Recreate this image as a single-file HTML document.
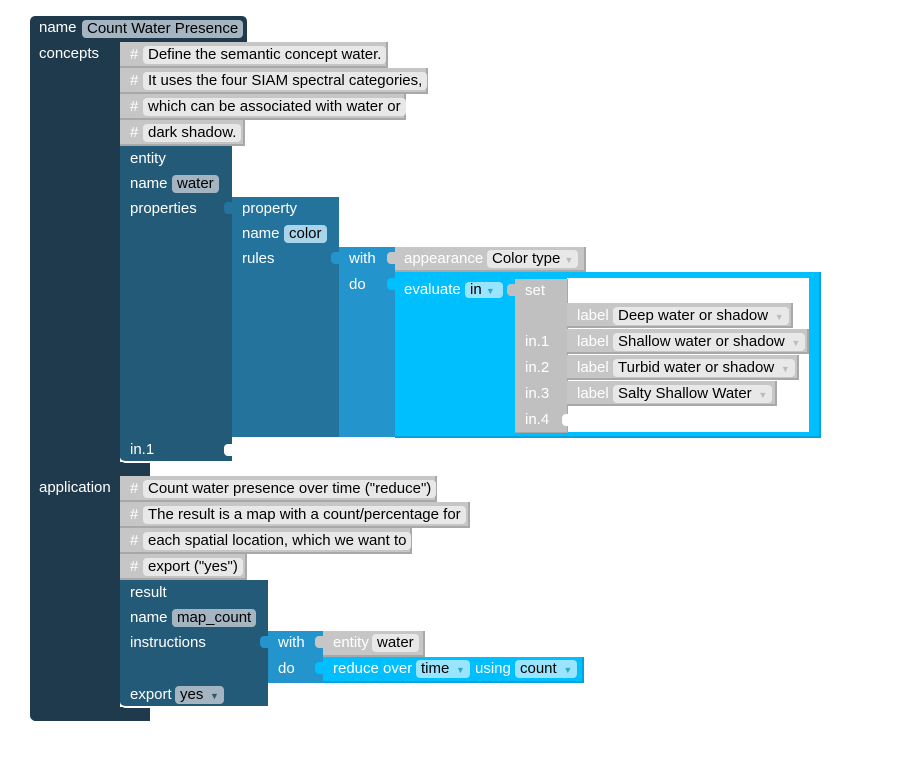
<!DOCTYPE html>
<html><head><meta charset="utf-8"><style>
body{margin:0;width:917px;height:767px;background:#fff;position:relative;overflow:hidden;font-family:"Liberation Sans",sans-serif;font-size:15px;}
div{position:absolute;box-sizing:border-box;}
.t{color:#fff;line-height:16px;white-space:nowrap;}
.f{line-height:17px;height:18px;padding:0 5px;border-radius:4px;color:#000;white-space:nowrap;}
.c{background:#c6c6c6;border-right:2px solid #a8a8a8;border-bottom:2px solid #a8a8a8;}
.cf{background:#e8e8e8;}
.dk{background:#a4b4c0;}
.bl{background:#a8d4ec;}
.cy{background:#99e5ff;}
.h{color:#fff;line-height:16px;}
</style></head><body>
<div style="left:30px;top:16px;width:217px;height:26px;background:#1f3a4d;border-radius:5px 5px 0 0"></div>
<div style="left:30px;top:41px;width:90px;height:680px;background:#1f3a4d;border-radius:0 0 0 6px"></div>
<div style="left:30px;top:462px;width:120px;height:14px;background:#1f3a4d"></div>
<div style="left:30px;top:707px;width:120px;height:14px;background:#1f3a4d;border-radius:0 0 0 6px"></div>
<div class="t" style="left:39px;top:20px">name</div>
<div class="f" style="left:82px;top:20px;background:#a4b4c0">Count Water Presence</div>
<div class="t" style="left:39px;top:46px">concepts</div>
<div class="t" style="left:39px;top:480px">application</div>

<div class="c" style="left:120px;top:42px;width:268px;height:26px"></div>
<div class="c" style="left:120px;top:68px;width:308px;height:26px"></div>
<div class="c" style="left:120px;top:94px;width:286px;height:26px"></div>
<div class="c" style="left:120px;top:120px;width:125px;height:26px"></div>
<div class="h" style="left:130px;top:47px">#</div><div class="f cf" style="left:143px;top:46px">Define the semantic concept water.</div>
<div class="h" style="left:130px;top:73px">#</div><div class="f cf" style="left:143px;top:72px">It uses the four SIAM spectral categories,</div>
<div class="h" style="left:130px;top:99px">#</div><div class="f cf" style="left:143px;top:98px">which can be associated with water or</div>
<div class="h" style="left:130px;top:125px">#</div><div class="f cf" style="left:143px;top:124px">dark shadow.</div>

<div style="left:120px;top:146px;width:112px;height:317px;background:#235a78;border-radius:0 0 0 6px;border-bottom:2px solid #fff"></div>
<div class="t" style="left:130px;top:151px">entity</div>
<div class="t" style="left:130px;top:176px">name</div><div class="f dk" style="left:172px;top:175px">water</div>
<div class="t" style="left:130px;top:201px">properties</div>
<div class="t" style="left:130px;top:442px">in.1</div>
<div style="left:224px;top:444px;width:8px;height:12px;background:#fff;border-radius:4px 0 0 4px"></div>

<div style="left:232px;top:197px;width:107px;height:240px;background:#23739c"></div>
<div style="left:224px;top:202px;width:9px;height:12px;background:#23739c;border-radius:4px 0 0 4px"></div>
<div class="t" style="left:242px;top:201px">property</div>
<div class="t" style="left:242px;top:226px">name</div><div class="f bl" style="left:284px;top:225px">color</div>
<div class="t" style="left:242px;top:251px">rules</div>

<div style="left:339px;top:247px;width:56px;height:190px;background:#2394cc"></div>
<div style="left:331px;top:252px;width:9px;height:12px;background:#2394cc;border-radius:4px 0 0 4px"></div>
<div class="t" style="left:349px;top:251px">with</div>
<div class="t" style="left:349px;top:277px">do</div>

<div class="c" style="left:395px;top:247px;width:191px;height:25px"></div>
<div style="left:387px;top:252px;width:9px;height:12px;background:#c6c6c6;border-radius:4px 0 0 4px"></div>
<div class="t" style="left:404px;top:251px">appearance</div>
<div class="f cf" style="left:487px;top:250px">Color type <span style="color:#bbb;font-size:9px">▼</span></div>

<div style="left:395px;top:272px;width:426px;height:166px;background:#00bfff;border-right:2px solid #00a3dd;border-bottom:2px solid #00a3dd"></div>
<div style="left:387px;top:278px;width:9px;height:12px;background:#00bfff;border-radius:4px 0 0 4px"></div>
<div style="left:567px;top:278px;width:242px;height:154px;background:#fff"></div>
<div class="t" style="left:404px;top:282px">evaluate</div>
<div class="f cy" style="left:465px;top:282px;width:38px;height:16px;line-height:16px">in <span style="color:#3ab;font-size:9px">▼</span></div>
<div style="left:515px;top:279px;width:53px;height:154px;background:#c0c0c0;border-right:1px solid #a8a8a8;border-bottom:1px solid #a8a8a8"></div>
<div style="left:507px;top:284px;width:9px;height:12px;background:#c0c0c0;border-radius:4px 0 0 4px"></div>
<div class="t" style="left:525px;top:283px">set</div>
<div class="t" style="left:525px;top:334px">in.1</div>
<div class="t" style="left:525px;top:360px">in.2</div>
<div class="t" style="left:525px;top:386px">in.3</div>
<div class="t" style="left:525px;top:412px">in.4</div>
<div style="left:562px;top:414px;width:6px;height:12px;background:#fff;border-radius:4px 0 0 4px"></div>

<div class="c" style="left:567px;top:303px;width:226px;height:25px"></div>
<div class="c" style="left:567px;top:329px;width:242px;height:25px"></div>
<div class="c" style="left:567px;top:355px;width:232px;height:25px"></div>
<div class="c" style="left:567px;top:381px;width:210px;height:25px"></div>
<div class="t" style="left:577px;top:308px">label</div><div class="f cf" style="left:613px;top:307px">Deep water or shadow <span style="color:#bbb;font-size:9px">&nbsp;▼</span></div>
<div class="t" style="left:577px;top:334px">label</div><div class="f cf" style="left:613px;top:333px">Shallow water or shadow <span style="color:#bbb;font-size:9px">&nbsp;▼</span></div>
<div class="t" style="left:577px;top:360px">label</div><div class="f cf" style="left:613px;top:359px">Turbid water or shadow <span style="color:#bbb;font-size:9px">&nbsp;▼</span></div>
<div class="t" style="left:577px;top:386px">label</div><div class="f cf" style="left:613px;top:385px">Salty Shallow Water <span style="color:#bbb;font-size:9px">&nbsp;▼</span></div>

<div class="c" style="left:120px;top:476px;width:317px;height:26px"></div>
<div class="c" style="left:120px;top:502px;width:350px;height:26px"></div>
<div class="c" style="left:120px;top:528px;width:292px;height:26px"></div>
<div class="c" style="left:120px;top:554px;width:127px;height:26px"></div>
<div class="h" style="left:130px;top:481px">#</div><div class="f cf" style="left:143px;top:480px">Count water presence over time ("reduce")</div>
<div class="h" style="left:130px;top:507px">#</div><div class="f cf" style="left:143px;top:506px">The result is a map with a count/percentage for</div>
<div class="h" style="left:130px;top:533px">#</div><div class="f cf" style="left:143px;top:532px">each spatial location, which we want to</div>
<div class="h" style="left:130px;top:559px">#</div><div class="f cf" style="left:143px;top:558px">export ("yes")</div>

<div style="left:120px;top:580px;width:148px;height:128px;background:#235a78;border-radius:0 0 0 6px;border-bottom:2px solid #fff"></div>
<div class="t" style="left:130px;top:585px">result</div>
<div class="t" style="left:130px;top:610px">name</div><div class="f dk" style="left:172px;top:609px">map_count</div>
<div class="t" style="left:130px;top:635px">instructions</div>
<div class="t" style="left:130px;top:687px">export</div><div class="f dk" style="left:175px;top:686px">yes <span style="color:#356;font-size:9px">&nbsp;▼</span></div>

<div style="left:268px;top:631px;width:55px;height:52px;background:#2394cc"></div>
<div style="left:260px;top:636px;width:9px;height:12px;background:#2394cc;border-radius:4px 0 0 4px"></div>
<div class="t" style="left:278px;top:635px">with</div>
<div class="t" style="left:278px;top:661px">do</div>
<div class="c" style="left:323px;top:631px;width:102px;height:26px"></div>
<div style="left:315px;top:636px;width:9px;height:12px;background:#c6c6c6;border-radius:4px 0 0 4px"></div>
<div class="t" style="left:333px;top:635px">entity</div><div class="f cf" style="left:372px;top:634px">water</div>
<div style="left:323px;top:657px;width:261px;height:26px;background:#00bfff;border-right:2px solid #00a3dd;border-bottom:2px solid #00a3dd"></div>
<div style="left:315px;top:662px;width:9px;height:12px;background:#00bfff;border-radius:4px 0 0 4px"></div>
<div class="t" style="left:333px;top:661px">reduce over</div>
<div class="f cy" style="left:416px;top:660px">time <span style="color:#3ab;font-size:9px">&nbsp;▼</span></div>
<div class="t" style="left:475px;top:661px">using</div>
<div class="f cy" style="left:515px;top:660px">count <span style="color:#3ab;font-size:9px">&nbsp;▼</span></div>
</body></html>
